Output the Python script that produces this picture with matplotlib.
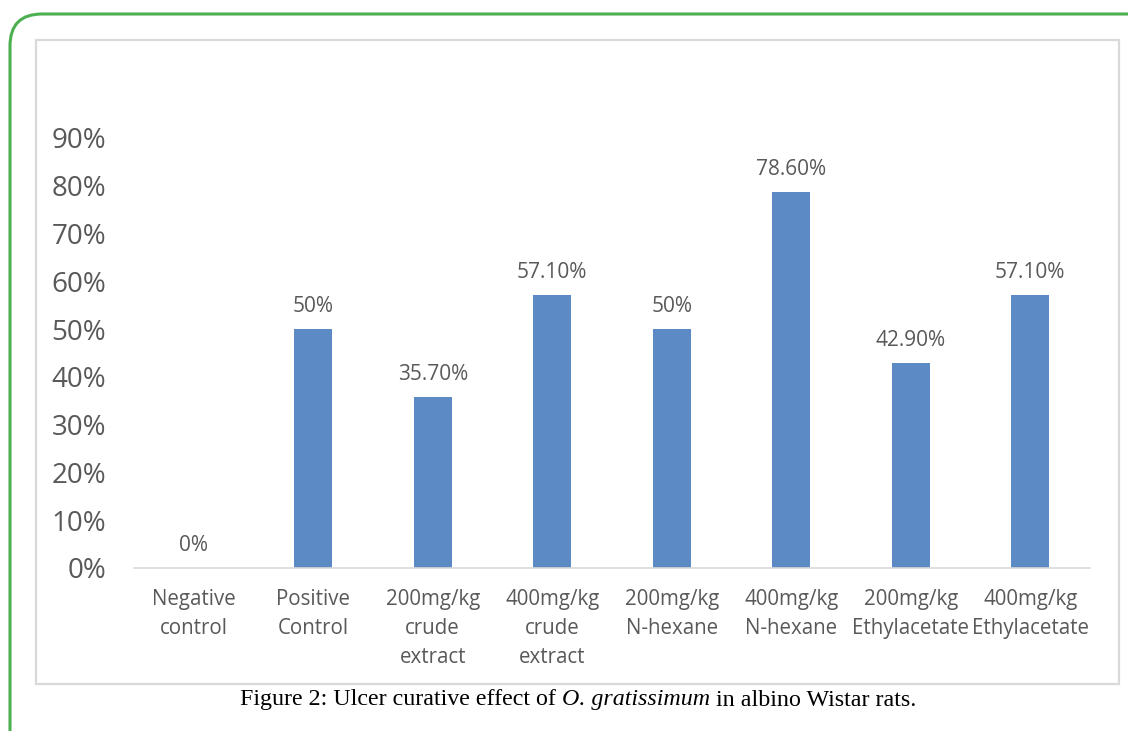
import numpy as np
import matplotlib
matplotlib.use("Agg")
from matplotlib import pyplot as plt
from matplotlib import patches, transforms
from matplotlib.ticker import PercentFormatter

categories = ["Negative\ncontrol", "Positive\nControl", "200mg/kg\ncrude\nextract",
              "400mg/kg\ncrude\nextract", "200mg/kg\nN-hexane", "400mg/kg\nN-hexane",
              "200mg/kg\nEthylacetate", "400mg/kg\nEthylacetate"]
values = [0.0, 0.50, 0.357, 0.571, 0.50, 0.786, 0.429, 0.571]
value_labels = ["0%", "50%", "35.70%", "57.10%", "50%", "78.60%", "42.90%", "57.10%"]
yticks = [0, 0.1, 0.2, 0.3, 0.4, 0.5, 0.6, 0.7, 0.8, 0.9]

plt.rcParams['font.family'] = ['Open Sans', 'DejaVu Sans']
grey = '#595959'

fig = plt.figure(figsize=(11.28, 7.31), dpi=100)
ax = fig.add_axes([134/1128, 1-568/731, (1090-134)/1128, (568-138)/731])

x = np.arange(len(categories))
ax.bar(x, values, width=0.32, color='#5b8ac4')
for xi, v, lab in zip(x, values, value_labels):
    ax.annotate(lab, (xi, v), xytext=(0, 16.5), textcoords='offset points',
                ha='center', va='center', fontsize=15, color=grey)

ax.set_xlim(-0.5, len(categories) - 0.5)
ax.set_ylim(0, 0.9)
ax.set_yticks(yticks)
ax.yaxis.set_major_formatter(PercentFormatter(1.0, decimals=0))
ax.set_xticks(x)
ax.set_xticklabels(categories, fontsize=14.8, color=grey, linespacing=1.5)
ax.tick_params(axis='x', length=0, pad=15)
ax.tick_params(axis='y', length=0, pad=20, labelsize=20, labelcolor=grey)
for s in ['top', 'right', 'left']:
    ax.spines[s].set_visible(False)
ax.spines['bottom'].set_color('#d9d9d9')
ax.spines['bottom'].set_linewidth(1.2)

# frames (pixel coordinates)
px = transforms.IdentityTransform()
inner = patches.Rectangle((36, 731-684), 1119-36, 684-40, transform=px,
                          fill=False, edgecolor='#d9d9d9', linewidth=1.6)
fig.add_artist(inner)
outer = patches.FancyBboxPatch((10, -60), 1200, 731-14+60, transform=px,
                               boxstyle="round,pad=0,rounding_size=32",
                               fill=False, edgecolor='#4caf50', linewidth=2.2)
fig.add_artist(outer)

# caption with italic species name
cap_y = 1 - 700/731
t1 = fig.text(240/1128, cap_y, "Figure 2: Ulcer curative effect of ", family='Liberation Serif',
              fontsize=17.3, va='center', ha='left')
t2 = fig.text(0, 0, "O. gratissimum", family='Liberation Serif', style='italic', fontsize=17.3)
t3 = fig.text(0, 0, " in albino Wistar rats.", family='Liberation Serif', fontsize=17.3)
fig.canvas.draw()
r = fig.canvas.get_renderer()
bb1 = t1.get_window_extent(r)
t2.set_transform(px)
t2.set_position((bb1.x1, bb1.y0))
t2.set_va('bottom')
fig.canvas.draw()
bb2 = t2.get_window_extent(r)
t3.set_transform(px)
t3.set_position((bb2.x1, bb1.y0))
t3.set_va('bottom')
t1.set_va('bottom')
t1.set_position((240, bb1.y0))
t1.set_transform(px)

fig.savefig("out.png", dpi=100)
